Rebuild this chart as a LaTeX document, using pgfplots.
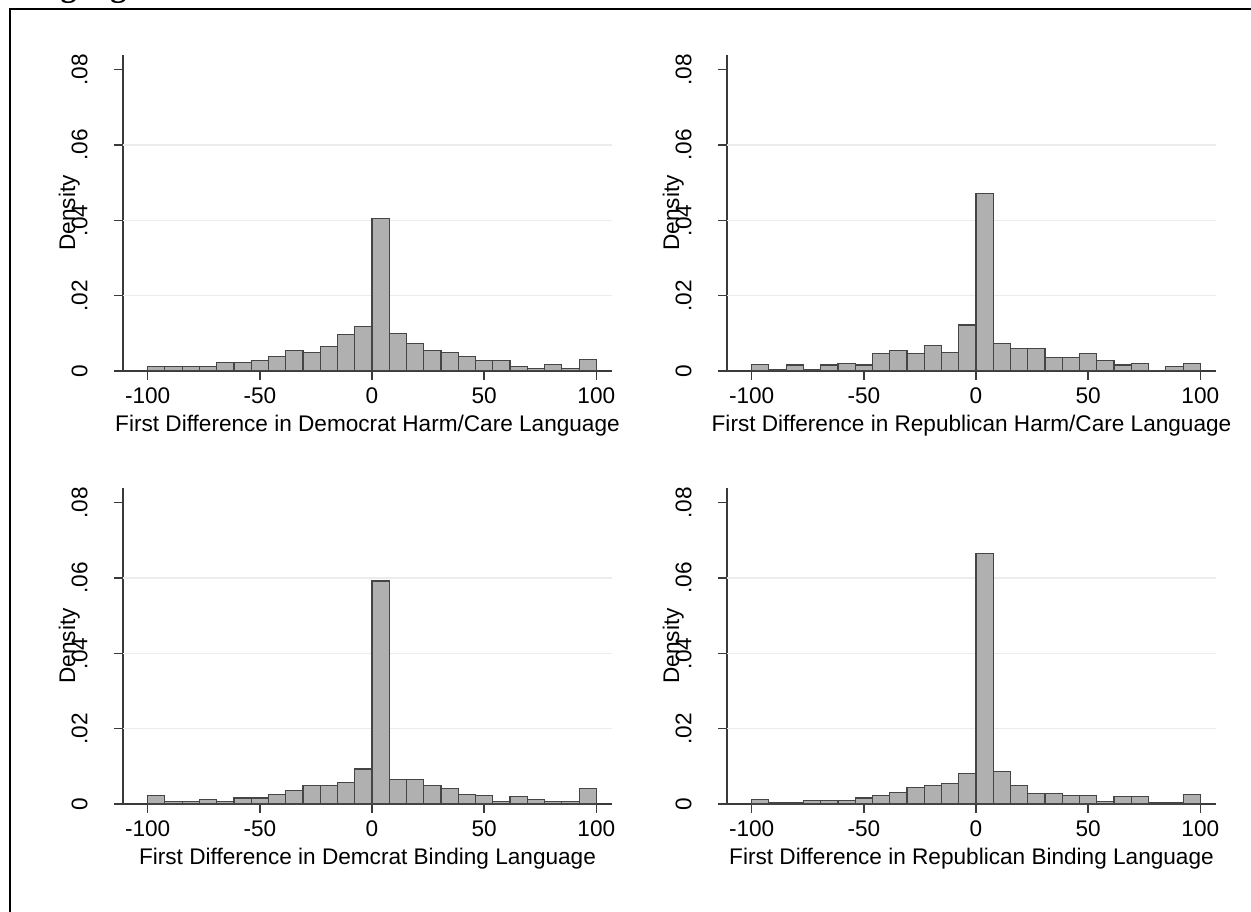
\documentclass[border=0pt]{standalone}
\usepackage{fontspec}
\setmainfont{Liberation Sans}
\newfontfamily\capfont{Liberation Serif}
\usepackage{pgfplots}
\pgfplotsset{compat=1.18}
\definecolor{barfill}{HTML}{B0B0B0}
\definecolor{bardraw}{HTML}{454545}
\definecolor{axiscol}{HTML}{3A3A3A}
\definecolor{gridcol}{HTML}{ECECEC}
\newcommand{\chartfont}{\fontsize{11.3}{13.5}\selectfont}
\pgfplotsset{
  hist/.style={
    scale only axis, width=244.5pt, height=158pt,
    xmin=-111, xmax=107, ymin=0, ymax=0.0839,
    axis x line*=bottom, axis y line*=left,
    axis line style={axiscol, line width=0.8pt},
    xtick={-100,-50,0,50,100}, xticklabels={-100,-50,0,50,100},
    ytick={0,0.02,0.04,0.06,0.08}, yticklabels={0,.02,.04,.06,.08},
    scaled y ticks=false, scaled x ticks=false,
    tick align=outside, major tick length=4.5pt,
    tick style={axiscol, line width=0.7pt},
    tick label style={font=\chartfont},
    xticklabel style={anchor=north, inner sep=0pt, yshift=-3.5pt},
    yticklabel style={anchor=south, inner sep=0pt, xshift=-13pt, rotate=90},
    extra y ticks={0.02,0.04,0.06}, extra y tick labels={,,},
    extra y tick style={grid=major, major tick length=0pt},
    grid style={gridcol, line width=0.7pt},
    label style={font=\chartfont},
    every axis x label/.style={at={(axis description cs:0.5,0)}, yshift=-30pt, anchor=base, font=\chartfont},
    every axis y label/.style={at={(axis description cs:0,0.5)}, xshift=-24pt, rotate=90, anchor=base, font=\chartfont},
    ylabel={Density},
  },
  bars/.style={ybar interval, fill=barfill, draw=bardraw, line width=0.55pt},
}
\begin{document}
\chartfont
\begin{tikzpicture}
\path[use as bounding box] (0,0) rectangle (625.5pt,455.5pt);
\node[anchor=base west, inner sep=0pt, font=\capfont\bfseries\fontsize{16}{18}\selectfont] at (2.5pt,457pt) {Language};
\draw[black, line width=1pt] (5pt,-2pt) -- (5pt,450.85pt) -- (630pt,450.85pt);

% Top left
\begin{axis}[hist, at={(61.5pt,270pt)}, anchor=south west,
  xlabel={First Difference in Democrat Harm/Care Language}]
\addplot[bars] table {
x y
-100 0.0012
-92.3077 0.0012
-84.6154 0.0012
-76.9231 0.0012
-69.2308 0.0023
-61.5385 0.0023
-53.8462 0.0029
-46.1538 0.0039
-38.4615 0.0055
-30.7692 0.0050
-23.0769 0.0065
-15.3846 0.0098
-7.6923 0.0119
0 0.0404
7.6923 0.0099
15.3846 0.0073
23.0769 0.0055
30.7692 0.0048
38.4615 0.0039
46.1538 0.0028
53.8462 0.0028
61.5385 0.0012
69.2308 0.0006
76.9231 0.0018
84.6154 0.0006
92.3077 0.0030
100 0.0030
};
\end{axis}

% Top right
\begin{axis}[hist, at={(363.5pt,270pt)}, anchor=south west,
  xlabel={First Difference in Republican Harm/Care Language}]
\addplot[bars] table {
x y
-100 0.0017
-92.3077 0.0004
-84.6154 0.0016
-76.9231 0.0005
-69.2308 0.0016
-61.5385 0.0021
-53.8462 0.0016
-46.1538 0.0047
-38.4615 0.0054
-30.7692 0.0046
-23.0769 0.0068
-15.3846 0.0050
-7.6923 0.0122
0 0.0472
7.6923 0.0072
15.3846 0.0059
23.0769 0.0059
30.7692 0.0037
38.4615 0.0037
46.1538 0.0047
53.8462 0.0029
61.5385 0.0016
69.2308 0.0021
76.9231 0
84.6154 0.0011
92.3077 0.0021
100 0.0021
};
\end{axis}

% Bottom left
\begin{axis}[hist, at={(61.5pt,53.5pt)}, anchor=south west,
  xlabel={First Difference in Demcrat Binding Language}]
\addplot[bars] table {
x y
-100 0.0022
-92.3077 0.0006
-84.6154 0.0006
-76.9231 0.0011
-69.2308 0.0006
-61.5385 0.0016
-53.8462 0.0016
-46.1538 0.0025
-38.4615 0.0036
-30.7692 0.0049
-23.0769 0.0049
-15.3846 0.0058
-7.6923 0.0093
0 0.0592
7.6923 0.0064
15.3846 0.0064
23.0769 0.0049
30.7692 0.0042
38.4615 0.0026
46.1538 0.0022
53.8462 0.0006
61.5385 0.0021
69.2308 0.0011
76.9231 0.0006
84.6154 0.0006
92.3077 0.0042
100 0.0042
};
\end{axis}

% Bottom right
\begin{axis}[hist, at={(363.5pt,53.5pt)}, anchor=south west,
  xlabel={First Difference in Republican Binding Language}]
\addplot[bars] table {
x y
-100 0.0011
-92.3077 0.0005
-84.6154 0.0005
-76.9231 0.0010
-69.2308 0.0010
-61.5385 0.0010
-53.8462 0.0016
-46.1538 0.0022
-38.4615 0.0030
-30.7692 0.0043
-23.0769 0.0050
-15.3846 0.0055
-7.6923 0.0081
0 0.0664
7.6923 0.0086
15.3846 0.0048
23.0769 0.0027
30.7692 0.0027
38.4615 0.0023
46.1538 0.0023
53.8462 0.0006
61.5385 0.0021
69.2308 0.0021
76.9231 0.0005
84.6154 0.0005
92.3077 0.0025
100 0.0025
};
\end{axis}
\end{tikzpicture}
\end{document}
